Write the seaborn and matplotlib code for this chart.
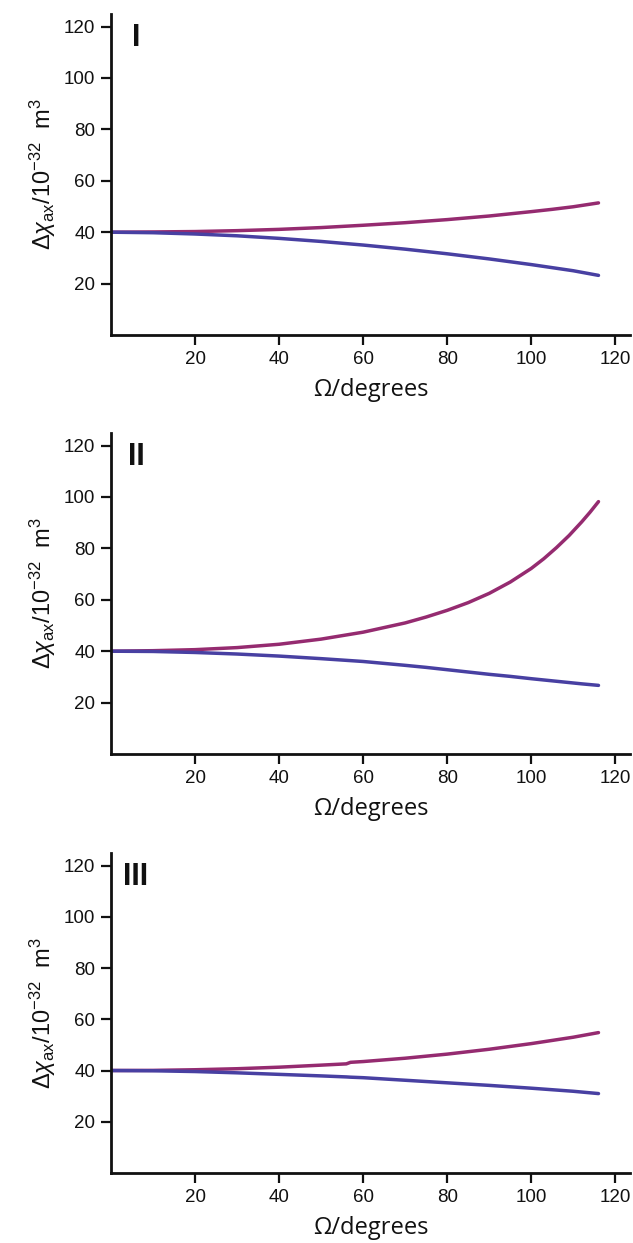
import numpy as np
import pandas as pd
import matplotlib
matplotlib.use("Agg")
import matplotlib.pyplot as plt
import seaborn as sns

# ---- data ----
omega_1 = [0, 10, 20, 30, 40, 50, 60, 70, 80, 90, 100, 105, 110, 116]
upper_1 = [40, 40.1, 40.25, 40.6, 41.1, 41.8, 42.7, 43.7, 44.9, 46.3, 48.0, 48.9, 49.9, 51.4]
lower_1 = [40, 39.8, 39.3, 38.6, 37.6, 36.4, 35.0, 33.4, 31.6, 29.6, 27.4, 26.2, 25.0, 23.2]

omega_2 = [0, 10, 20, 30, 40, 50, 60, 70, 75, 80, 85, 90, 95, 100, 103, 106, 109, 112, 114, 116]
upper_2 = [40, 40.2, 40.6, 41.4, 42.7, 44.7, 47.4, 51.0, 53.3, 55.9, 58.9, 62.5, 66.9, 72.2, 76.0, 80.3, 85.0, 90.3, 94.1, 98.2]
lower_2 = [40, 39.9, 39.5, 38.9, 38.1, 37.1, 36.0, 34.5, 33.7, 32.8, 31.9, 31.0, 30.2, 29.3, 28.8, 28.3, 27.8, 27.3, 27.0, 26.7]

omega_3 = [0, 10, 20, 30, 40, 50, 56, 57, 60, 70, 80, 90, 100, 110, 116]
upper_3 = [40, 40.05, 40.3, 40.7, 41.3, 42.1, 42.6, 43.2, 43.5, 44.8, 46.4, 48.3, 50.5, 53.0, 54.8]
lower_3 = [40, 39.9, 39.6, 39.1, 38.5, 37.9, 37.5, 37.4, 37.2, 36.2, 35.2, 34.2, 33.1, 31.9, 31.0]

panel_labels = ["I", "II", "III"]
tick_values = [20, 40, 60, 80, 100, 120]

panels = [(omega_1, upper_1, lower_1), (omega_2, upper_2, lower_2), (omega_3, upper_3, lower_3)]

sns.set_theme(style="ticks")
plt.rcParams["font.family"] = ["Liberation Sans", "DejaVu Sans"]
plt.rcParams["mathtext.fontset"] = "custom"
plt.rcParams["mathtext.rm"] = "Liberation Sans"
plt.rcParams["mathtext.it"] = "Liberation Sans:italic"
plt.rcParams["mathtext.bf"] = "Liberation Sans:bold"

purple = "#952b70"
blue = "#4840a2"
palette = {"upper": purple, "lower": blue}

fig = plt.figure(figsize=(6.33, 12.43), dpi=100)
H = 1243.0
W = 633.0
tops = [14, 433, 853]
bottoms = [335, 754, 1173]
left = 111 / W
width = 519 / W

for i, (om, up, lo) in enumerate(panels):
    ax = fig.add_axes([left, 1 - bottoms[i] / H, width, (bottoms[i] - tops[i]) / H])
    df = pd.DataFrame({
        "omega": list(om) + list(om),
        "val": list(up) + list(lo),
        "series": ["upper"] * len(om) + ["lower"] * len(om),
    })
    sns.lineplot(data=df, x="omega", y="val", hue="series", palette=palette,
                 linewidth=2.5, legend=False, ax=ax, sort=True)
    ax.set_xlim(0, 123.5)
    ax.set_ylim(0, 124.9)
    ax.set_xticks(tick_values)
    ax.set_yticks(tick_values)
    for s in ["top", "right"]:
        ax.spines[s].set_visible(False)
    for s in ["left", "bottom"]:
        ax.spines[s].set_linewidth(2.0)
        ax.spines[s].set_color("#111111")
    ax.tick_params(axis="both", direction="out", length=7.5, width=1.6,
                   color="#111111", labelsize=13.5, labelcolor="#111111", pad=4)
    ax.set_xlabel("Ω/degrees", fontsize=17, family=["Open Sans", "DejaVu Sans"],
                  color="#111111", labelpad=7)
    ax.set_ylabel(r"$\Delta\chi_{\mathrm{ax}}/10^{-32}\ \ \mathrm{m}^{3}$", fontsize=17,
                  color="#111111", labelpad=4)
    ax.text(0.048, 0.972, panel_labels[i], transform=ax.transAxes, ha="center",
            va="top", fontsize=22, fontweight="bold", color="#111111")

fig.savefig("out.png", dpi=100)
